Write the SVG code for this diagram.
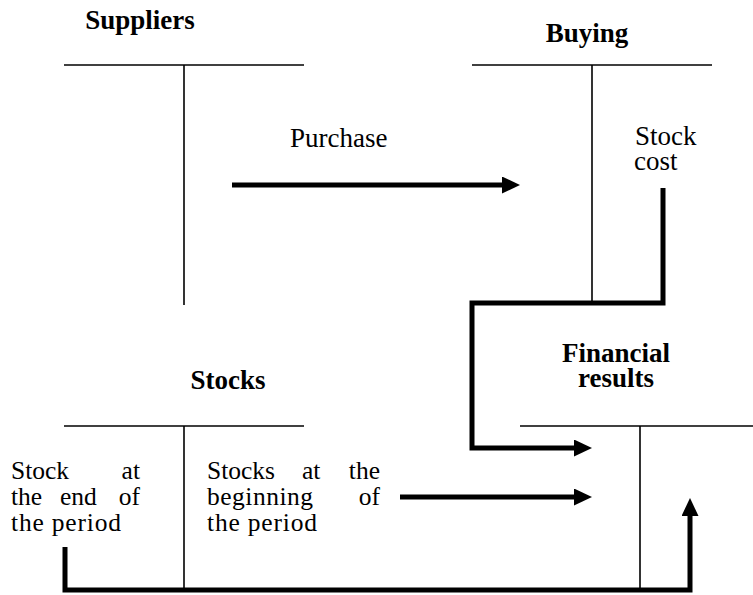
<svg xmlns="http://www.w3.org/2000/svg" width="753" height="595" viewBox="0 0 753 595">
<style>
text{font-family:'Liberation Serif','DejaVu Serif',serif;font-size:27px;fill:#000}
.h{font-weight:bold}
.s{font-size:25.5px}
.thin{stroke:#000;stroke-width:1.6;fill:none}
.bold{stroke:#000;stroke-width:5;fill:none;stroke-linejoin:miter}
</style>
<defs>
<marker id="ah" markerUnits="userSpaceOnUse" markerWidth="19" markerHeight="18" refX="0" refY="8.5" orient="auto">
<path d="M0,0 L18,8.5 L0,17 z" fill="#000"/>
</marker>
</defs>
<rect width="753" height="595" fill="#fff"/>
<g id="suppliers">
<text class="h" x="140" y="29" text-anchor="middle">Suppliers</text>
<line class="thin" x1="64" y1="65" x2="304" y2="65"/>
<line class="thin" x1="184" y1="65" x2="184" y2="305"/>
</g>
<g id="buying">
<text class="h" x="587" y="42" text-anchor="middle">Buying</text>
<line class="thin" x1="472" y1="65" x2="712" y2="65"/>
<line class="thin" x1="592" y1="65" x2="592" y2="303"/>
<text><tspan x="635" y="145">Stock</tspan><tspan x="634" y="170">cost</tspan></text>
</g>
<g id="stocks">
<text class="h" x="228" y="389" text-anchor="middle">Stocks</text>
<line class="thin" x1="64" y1="426" x2="304" y2="426"/>
<line class="thin" x1="184" y1="426" x2="184" y2="592"/>
<text class="s"><tspan x="11" y="479">Stock</tspan><tspan x="140" y="479" text-anchor="end">at</tspan><tspan x="11" y="505">the</tspan><tspan x="60" y="505">end</tspan><tspan x="140" y="505" text-anchor="end">of</tspan><tspan x="11" y="531" textLength="110">the period</tspan></text>
<text class="s"><tspan x="207" y="479">Stocks</tspan><tspan x="302" y="479">at</tspan><tspan x="380" y="479" text-anchor="end">the</tspan><tspan x="207" y="505" textLength="106">beginning</tspan><tspan x="380" y="505" text-anchor="end">of</tspan><tspan x="207" y="531" textLength="110">the period</tspan></text>
</g>
<g id="financial-results">
<text class="h" text-anchor="middle"><tspan x="616" y="362">Financial</tspan><tspan x="616" y="387">results</tspan></text>
<line class="thin" x1="520" y1="426" x2="753" y2="426"/>
<line class="thin" x1="640" y1="426" x2="640" y2="592"/>
</g>
<g id="purchase-label">
<text x="290" y="147">Purchase</text>
</g>
<g id="connectors">
<path class="bold" d="M232,185 L502,185" marker-end="url(#ah)"/>
<path class="bold" d="M663,188 L663,303 L472,303 L472,448 L574,448" marker-end="url(#ah)"/>
<path class="bold" d="M400,497 L574,497" marker-end="url(#ah)"/>
<path class="bold" d="M65,547 L65,590 L690,590 L690,516" marker-end="url(#ah)"/>
</g>
</svg>
